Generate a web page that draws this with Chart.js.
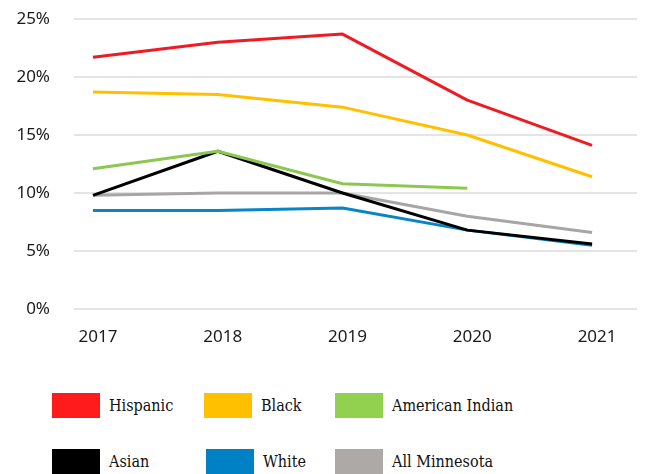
<!DOCTYPE html>
<html>
<head>
<meta charset="utf-8">
<script src="https://cdn.jsdelivr.net/npm/chart.js@4"></script>
<style>
  body { margin: 0; background: #fff; width: 668px; height: 474px; overflow: hidden; position: relative; }
  #wrap { position: absolute; left: 0; top: 0; width: 668px; height: 350px; }
  .item { position: absolute; height: 25px; display: flex; align-items: center;
          font-family: "DejaVu Serif Condensed", "DejaVu Serif", serif; font-stretch: condensed;
          font-size: 16px; color: #111; white-space: nowrap; }
  .item span.box { display: inline-block; width: 48px; height: 25px; margin-right: 9px; }
</style>
</head>
<body>
<div id="wrap"><canvas id="chart"></canvas></div>
<div id="legend"></div>
<script>
// data (percent)
const years = [2017, 2018, 2019, 2020, 2021];
const hispanic = [21.7, 23.0, 23.7, 18.0, 14.1];
const black = [18.7, 18.5, 17.4, 15.0, 11.4];
const americanIndian = [12.1, 13.6, 10.8, 10.4, null];
const asian = [9.8, 13.6, 10.0, 6.8, 5.6];
const white = [8.5, 8.5, 8.7, 6.8, 5.5];
const allMinnesota = [9.8, 10.0, 10.0, 8.0, 6.6];
const yTicks = [0, 5, 10, 15, 20, 25];

const series = [
  { label: 'Hispanic', data: hispanic, color: '#ed1c24', box: '#ff1b1b' },
  { label: 'Black', data: black, color: '#ffc000', box: '#ffc000' },
  { label: 'American Indian', data: americanIndian, color: '#8cc850', box: '#92d050' },
  { label: 'Asian', data: asian, color: '#000000', box: '#000000' },
  { label: 'White', data: white, color: '#0a84c8', box: '#0081c6' },
  { label: 'All Minnesota', data: allMinnesota, color: '#a8a6a4', box: '#aca9a7' }
];

const tickFont = { family: '"Noto Sans", sans-serif', size: 17 };

new Chart(document.getElementById('chart'), {
  type: 'line',
  data: {
    datasets: series.map(s => ({
      label: s.label,
      data: years.map((y, i) => ({ x: y, y: s.data[i] })),
      borderColor: s.color,
      backgroundColor: s.color,
      borderWidth: 3,
      pointRadius: 0,
      tension: 0,
      borderJoinStyle: 'round',
      spanGaps: false
    }))
  },
  options: {
    responsive: true,
    maintainAspectRatio: false,
    animation: false,
    layout: { padding: { top: 19, right: 31, left: 0, bottom: 0 } },
    plugins: { legend: { display: false }, tooltip: { enabled: false } },
    scales: {
      x: {
        type: 'linear',
        min: 2016.848,
        max: 2021.36,
        afterBuildTicks: axis => { axis.ticks = years.map(v => ({ value: v })); },
        afterFit: axis => { axis.height = 41; axis.paddingLeft = 0; axis.paddingRight = 0; },
        grid: { display: false },
        border: { display: false },
        ticks: { font: tickFont, color: '#1a1a1a', padding: 10, labelOffset: 5,
                 callback: v => String(v) }
      },
      y: {
        min: 0,
        max: 25,
        afterBuildTicks: axis => { axis.ticks = yTicks.map(v => ({ value: v })); },
        afterFit: axis => { axis.width = 74; axis.paddingTop = 0; axis.paddingBottom = 0; },
        grid: { color: '#e4e4e4', lineWidth: 2, drawTicks: false },
        border: { display: false },
        ticks: { font: tickFont, color: '#1a1a1a', padding: 24, callback: v => v + '%' }
      }
    }
  }
});

// legend laid out in two rows of three, like the original
const slots = [[52, 393], [204, 393], [335, 393], [52, 449], [206, 449], [335, 449]];
const legend = document.getElementById('legend');
series.forEach((s, i) => {
  const el = document.createElement('div');
  el.className = 'item';
  el.style.left = slots[i][0] + 'px';
  el.style.top = slots[i][1] + 'px';
  el.innerHTML = '<span class="box" style="background:' + s.box + '"></span>' + s.label;
  legend.appendChild(el);
});
</script>
</body>
</html>
